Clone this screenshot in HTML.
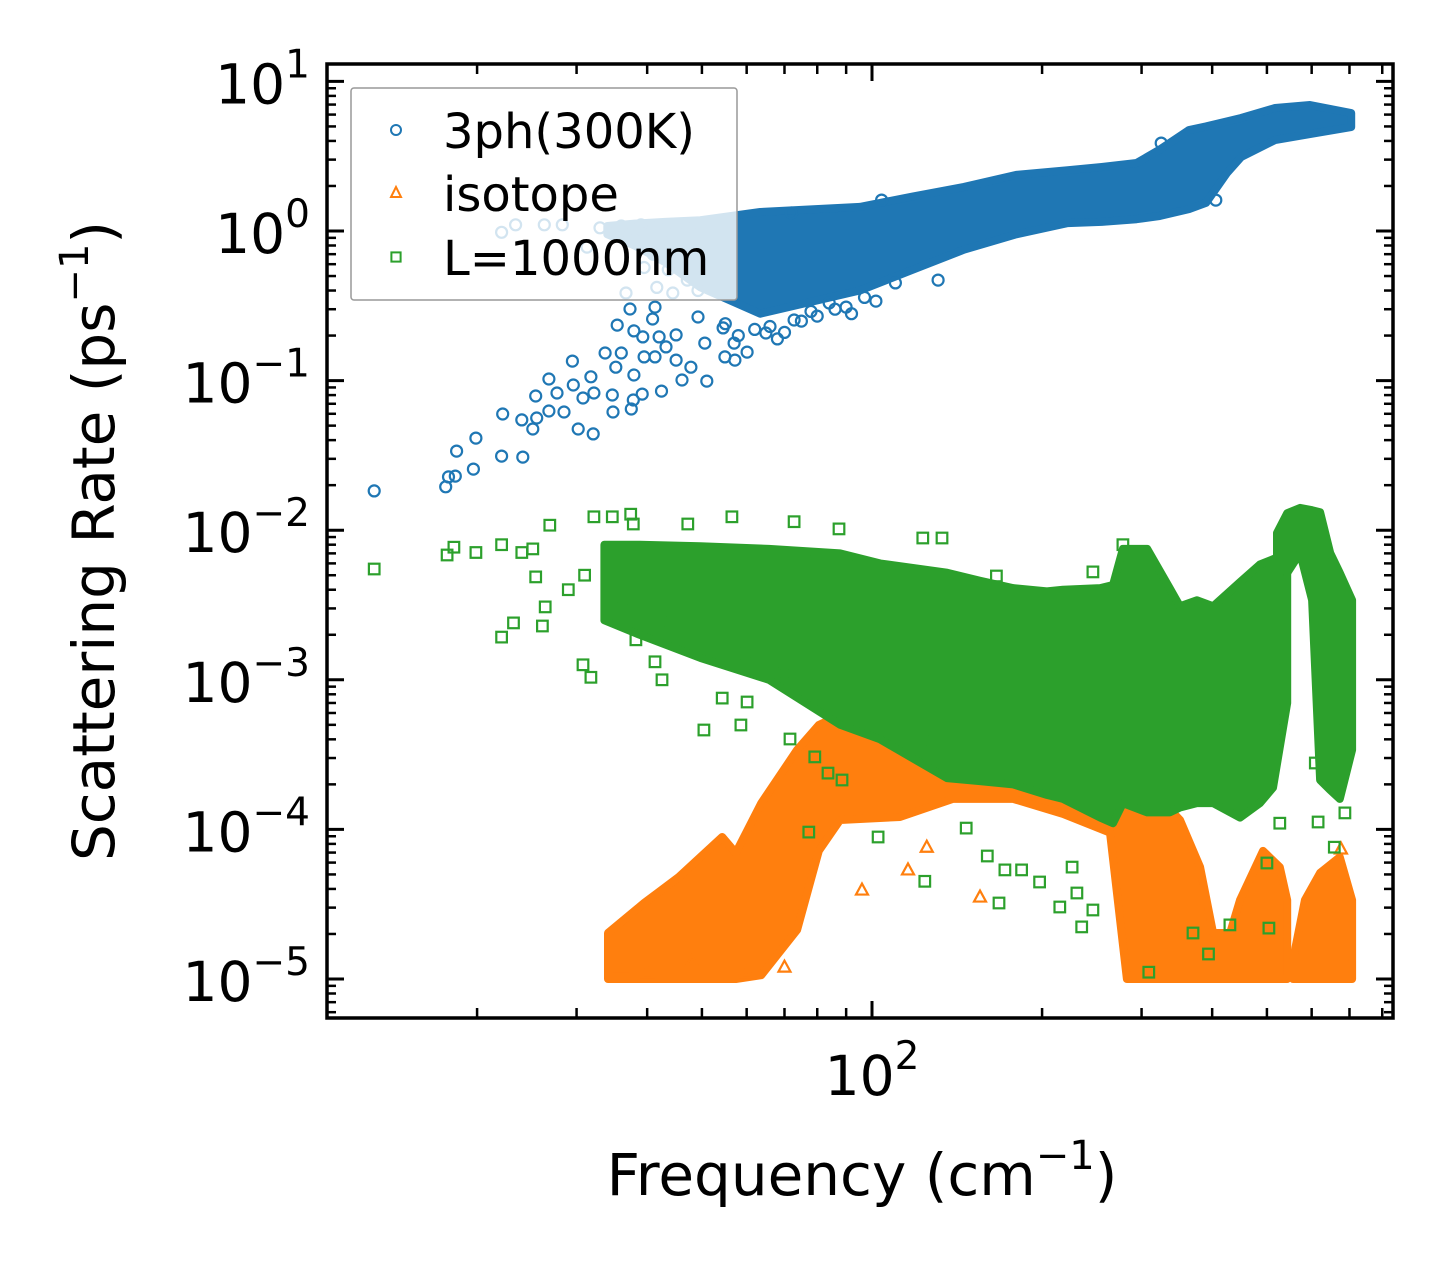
<!DOCTYPE html>
<html><head><meta charset="utf-8">
<style>
html,body{margin:0;padding:0;background:#fff;}
svg{display:block;font-family:"DejaVu Sans","Liberation Sans",sans-serif;}
</style></head>
<body>
<svg id="chart" width="1455" height="1269" viewBox="0 0 1455 1269" xmlns="http://www.w3.org/2000/svg">
<rect width="1455" height="1269" fill="#fff"/>
<defs><clipPath id="plotclip"><rect x="327" y="64" width="1066" height="954"/></clipPath></defs>
<g id="marks" clip-path="url(#plotclip)"></g>
<g id="axes"></g>
</svg>
<script>
// ---- data (frequency in cm^-1, rate in ps^-1) ----
const phFreq = [34, 38, 43, 49.7, 63.4, 95.2, 118, 145.5, 180, 222, 255, 294, 323, 364, 390, 425, 450, 517, 596, 705];
const phHigh = [1.08, 1.12, 1.15, 1.18, 1.34, 1.45, 1.7, 1.97, 2.37, 2.55, 2.68, 2.85, 3.5, 4.73, 5.0, 5.4, 5.69, 6.64, 6.95, 6.15];
const phLow  = [0.95, 0.8, 0.62, 0.42, 0.28, 0.40, 0.55, 0.75, 0.95, 1.13, 1.15, 1.2, 1.26, 1.4, 1.54, 2.44, 3.12, 4.06, 4.45, 4.96];
const phPtFreq = [13.15,17.6,17.8,18.3,19.7,18.4,19.9,22.1,24.1,22.2,24.0,25.1,25.5,26.8,28.5,30.2,32.1,25.4,27.7,26.8,29.6,29.5,30.8,32.2,31.8,34.7,34.8,37.5,37.8,39.2,42.4,33.7,36.0,35.2,37.9,39.5,41.3,45.0,46.1,51.0,47.8,35.4,37.9,39.3,37.3,40.9,42.0,43.2,45.0,49.2,50.6,54.5,54.9,57.2,60.1,57.0,64.9,72.8,101.6,41.3,44.4,22.1,23.4,26.3,28.3,31.3,36.7,41.6,47.1,39.5,43.6,49.2,33,36,39,42,45,48,38,44,47,41,46,35,406,130.9,72,104,325,55,62,68,75,80,86,92,58,66,70,78,84,90,97,110];
const phPtRate = [0.0183,0.0195,0.0227,0.0230,0.0256,0.0338,0.0413,0.0313,0.0308,0.0598,0.0546,0.0475,0.0562,0.0626,0.0617,0.0475,0.0440,0.0789,0.0826,0.1025,0.0935,0.135,0.0765,0.0826,0.106,0.0801,0.0617,0.0646,0.0742,0.0813,0.0851,0.153,0.153,0.123,0.109,0.144,0.144,0.137,0.101,0.0993,0.123,0.235,0.215,0.196,0.301,0.258,0.196,0.168,0.202,0.266,0.178,0.225,0.144,0.137,0.155,0.178,0.208,0.254,0.340,0.310,0.385,0.98,1.10,1.10,1.10,0.78,0.385,0.42,0.47,0.57,0.55,0.40,1.05,1.08,1.10,1.07,1.10,1.08,0.90,0.85,0.75,0.70,0.62,1.00,1.61,0.47,1.32,1.61,3.87,0.24,0.22,0.19,0.25,0.27,0.3,0.28,0.2,0.23,0.21,0.29,0.33,0.31,0.36,0.45];
const isoFreq1 = [34.1,39.5,45.5,54.3,57.4,63.7,73.7,80.5,87.8,112.1,139.1,177.8,217.8,263.8,282.6,298,323.6,350.8,380.8,401.5,430.3,448,492,527,543];
const isoHigh1 = [2.03e-5,3.22e-5,4.81e-5,8.9e-5,6.95e-5,1.5e-4,3.4e-4,4.99e-4,5.82e-4,7.33e-4,6.28e-4,5.82e-4,5.38e-4,3.96e-4,2.91e-4,2.91e-4,1.6e-4,1.156e-4,5.6e-5,2.03e-5,2.03e-5,3.37e-5,7.18e-5,5.6e-5,3.37e-5];
const isoLow1  = [1e-5,1e-5,1e-5,1e-5,1e-5,1.06e-5,2.13e-5,7.18e-5,1.156e-4,1.21e-4,1.6e-4,1.6e-4,1.27e-4,9.5e-5,1e-5,1e-5,1e-5,1e-5,1e-5,1e-5,1e-5,1e-5,1e-5,1e-5,1e-5];
const isoFreq2 = [556,583.6,621,673,707.5];
const isoHigh2 = [1.34e-5,3.37e-5,5.12e-5,6.53e-5,3.37e-5];
const isoLow2  = [1e-5,1e-5,1e-5,1e-5,1e-5];
const isoPtFreq = [96,155.3,115.8,125,676,36,40,48,60,70];
const isoPtRate = [3.93e-5,3.53e-5,5.36e-5,7.6e-5,7.4e-5,1.2e-5,1.1e-5,1.3e-5,1.1e-5,1.2e-5];
const bFreq = [33.6,38.8,49.7,65.7,87.8,103.3,135.8,155.3,177.8,204,217.8,253.4,267,278,307,336.5,350.8,375.9,401.5,448,486,512.6,543];
const bHigh = [0.0080,0.0080,0.0078,0.0075,0.0070,0.0060,0.0052,0.0046,0.0041,0.0039,0.0040,0.0041,0.0043,0.0075,0.0075,0.0041,0.0031,0.0034,0.0031,0.0045,0.0059,0.0064,0.0070];
const bLow  = [0.00250,0.00200,0.00140,0.00100,0.00050,0.00040,0.00022,0.00021,0.00020,0.00017,0.00016,0.00012,0.00011,0.00015,0.00013,0.00013,0.00014,0.00015,0.00015,0.00012,0.00015,0.00019,0.00070];
const bPeakFreq = [521,543,572.3,601,621,647,673,707.5];
const bPeakHigh = [0.00958,0.0130,0.0141,0.0136,0.0132,0.00704,0.00518,0.00341];
const bPeakLow  = [0.00632,0.00518,0.00704,0.00341,0.000214,0.000183,0.000160,0.000340];
const bPtFreq = [13.15,17.7,18.2,19.9,22.1,24.0,25.1,26.9,32.2,34.7,37.4,37.8,56.5,72.8,87.4,47.2,25.4,26.4,23.2,22.1,26.1,30.8,31.8,41.3,42.5,50.4,58.6,71.6,79.2,83.6,88.5,77.3,102.5,38.2,54.3,60.1,133,124,146.8,160,171.9,184,198,167.8,215,235,246,230.5,226,430,504,370,394,309,527,609,658,616,687,500,123,166,246,278,29,31,36,44,52,60,70,80,95,112,128,150];
const bPtRate = [0.0055,0.00683,0.0077,0.0071,0.0080,0.0071,0.0075,0.0108,0.0123,0.0123,0.0128,0.0110,0.0123,0.0114,0.0102,0.0110,0.00487,0.00307,0.0024,0.00193,0.00229,0.00126,0.00104,0.00132,0.00100,0.000462,0.000499,0.000402,0.000305,0.000238,0.000214,9.6e-5,8.9e-5,0.00185,0.000755,0.000711,0.00887,4.5e-5,1.02e-4,6.64e-5,5.36e-5,5.36e-5,4.45e-5,3.22e-5,3.03e-5,2.23e-5,2.89e-5,3.76e-5,5.6e-5,2.3e-5,2.19e-5,2.03e-5,1.47e-5,1.11e-5,1.10e-4,2.78e-4,7.6e-5,1.12e-4,1.29e-4,5.96e-5,0.00887,0.00494,0.00526,0.0080,0.0040,0.0050,0.0035,0.0025,0.0020,0.0015,0.0011,0.0009,0.0007,0.0005,0.0004,0.0003];
const yTickExps = [1,0,-1,-2,-3,-4,-5];
const xTickExps = [2];

const X0 = 872, XD = 565, Y0 = 231, YD = 149.6;
function xs(f){ return X0 + XD*Math.log10(f/100); }
function ys(r){ return Y0 - YD*Math.log10(r); }
const NS = 'http://www.w3.org/2000/svg';
function mk(tag, attrs, parent){ const e=document.createElementNS(NS,tag); for(const k in attrs) e.setAttribute(k,attrs[k]); parent.appendChild(e); return e; }

const C_BLUE='#1f77b4', C_OR='#ff7f0e', C_GR='#2ca02c';
const marks = document.getElementById('marks');

function band(freq, hi, lo, color, name){
  let pts=[];
  for(let i=0;i<freq.length;i++) pts.push(xs(freq[i]).toFixed(1)+','+ys(hi[i]).toFixed(1));
  for(let i=freq.length-1;i>=0;i--) pts.push(xs(freq[i]).toFixed(1)+','+ys(lo[i]).toFixed(1));
  const p = mk('polygon',{points:pts.join(' '),fill:color,stroke:color,'stroke-width':8,'stroke-linejoin':'round'},marks);
  
  
}
function circle(f,r,color,name){
  const c = mk('circle',{cx:xs(f).toFixed(1),cy:ys(r).toFixed(1),r:5.5,fill:'none',stroke:color,'stroke-width':2.2},marks);
  
  
}
function square(f,r,color,name){
  const x=xs(f), y=ys(r);
  const s = mk('rect',{x:(x-5.3).toFixed(1),y:(y-5.3).toFixed(1),width:10.6,height:10.6,fill:'none',stroke:color,'stroke-width':2.2},marks);
  
  
}
function tri(f,r,color,name){
  const x=xs(f), y=ys(r);
  const t = mk('polygon',{points:`${x},${y-6.5} ${x-6},${y+4.5} ${x+6},${y+4.5}`,fill:'none',stroke:color,'stroke-width':2.2},marks);
  
  
}

band(phFreq, phHigh, phLow, C_BLUE, '3ph-dense-band');
for(let i=0;i<phPtFreq.length;i++) circle(phPtFreq[i], phPtRate[i], C_BLUE, '3ph-point');
band(isoFreq1, isoHigh1, isoLow1, C_OR, 'isotope-band');
band(isoFreq2, isoHigh2, isoLow2, C_OR, 'isotope-band-high');
for(let i=0;i<isoPtFreq.length;i++) tri(isoPtFreq[i], isoPtRate[i], C_OR, 'isotope-point');
band(bFreq, bHigh, bLow, C_GR, 'boundary-band');
band(bPeakFreq, bPeakHigh, bPeakLow, C_GR, 'boundary-peak-band');
for(let i=0;i<bPtFreq.length;i++) square(bPtFreq[i], bPtRate[i], C_GR, 'boundary-point');

const axes = document.getElementById('axes');
const L=327, R=1393, T=64, B=1018;
for(const e of yTickExps){
  const y = ys(Math.pow(10,e));
  const t1 = mk('line',{x1:L,x2:L+17,y1:y,y2:y,stroke:'#000','stroke-width':3},axes);
  
  
  mk('line',{x1:R,x2:R-17,y1:y,y2:y,stroke:'#000','stroke-width':3},axes);
  const tx = mk('text',{x:310,y:y+22,'text-anchor':'end','font-size':55,fill:'#000'},axes);
  
  
  const a = mk('tspan',{},tx); a.textContent='10';
  const b = mk('tspan',{dy:-26,'font-size':39},tx); b.textContent = (e<0?'\u2212':'')+Math.abs(e);
  for(let m=2;m<=9;m++){
    const ym = ys(m*Math.pow(10,e-1));
    if(ym>B-2||ym<T+2) continue;
    mk('line',{x1:L,x2:L+9,y1:ym,y2:ym,stroke:'#000','stroke-width':2.5},axes);
    mk('line',{x1:R,x2:R-9,y1:ym,y2:ym,stroke:'#000','stroke-width':2.5},axes);
  }
}
for(let m=2;m<=9;m++){ const ym=ys(m*10); if(ym>T+2){ mk('line',{x1:L,x2:L+9,y1:ym,y2:ym,stroke:'#000','stroke-width':2.5},axes); mk('line',{x1:R,x2:R-9,y1:ym,y2:ym,stroke:'#000','stroke-width':2.5},axes);} }
for(const e of xTickExps){
  const x = xs(Math.pow(10,e));
  const t1 = mk('line',{x1:x,x2:x,y1:B,y2:B-17,stroke:'#000','stroke-width':3},axes);
  
  
  mk('line',{x1:x,x2:x,y1:T,y2:T+17,stroke:'#000','stroke-width':3},axes);
  const tx = mk('text',{x:x,y:1095,'text-anchor':'middle','font-size':55,fill:'#000'},axes);
  
  
  const a = mk('tspan',{},tx); a.textContent='10';
  const b = mk('tspan',{dy:-26,'font-size':39},tx); b.textContent=String(e);
}
for(const f of [20,30,40,50,60,70,80,90,200,300,400,500,600,700,800]){
  const x=xs(f);
  mk('line',{x1:x,x2:x,y1:B,y2:B-10,stroke:'#000','stroke-width':2.5},axes);
  mk('line',{x1:x,x2:x,y1:T,y2:T+10,stroke:'#000','stroke-width':2.5},axes);
}
const frame = mk('rect',{x:L,y:T,width:R-L,height:B-T,fill:'none',stroke:'#000','stroke-width':3.5},axes);


</script>
<svg style="position:absolute;left:0;top:0" width="1455" height="1269" xmlns="http://www.w3.org/2000/svg">
  <text x="862" y="1195" text-anchor="middle" font-size="58" font-family="DejaVu Sans, Liberation Sans, sans-serif">Frequency (cm<tspan dy="-26" font-size="40">−1</tspan><tspan dy="26">)</tspan></text>
  <text transform="translate(114,541) rotate(-90)" text-anchor="middle" font-size="58" font-family="DejaVu Sans, Liberation Sans, sans-serif">Scattering Rate (ps<tspan dy="-26" font-size="40">−1</tspan><tspan dy="26">)</tspan></text>
  <g>
    <rect x="351" y="88" width="386" height="212" rx="3" fill="rgba(255,255,255,0.8)" stroke="#999" stroke-width="1.5"/>
    <g>
      <circle cx="396" cy="130" r="5" fill="none" stroke="#1f77b4" stroke-width="2"/>
      <text x="443" y="148" font-size="48" font-family="DejaVu Sans, Liberation Sans, sans-serif">3ph(300K)</text>
    </g>
    <g>
      <polygon points="396,187 391,197 401,197" fill="none" stroke="#ff7f0e" stroke-width="2"/>
      <text x="443" y="211" font-size="48" font-family="DejaVu Sans, Liberation Sans, sans-serif">isotope</text>
    </g>
    <g>
      <rect x="391.4" y="252.4" width="9.2" height="9.2" fill="none" stroke="#2ca02c" stroke-width="2"/>
      <text x="443" y="275" font-size="48" font-family="DejaVu Sans, Liberation Sans, sans-serif">L=1000nm</text>
    </g>
  </g>
</svg>
</body></html>
